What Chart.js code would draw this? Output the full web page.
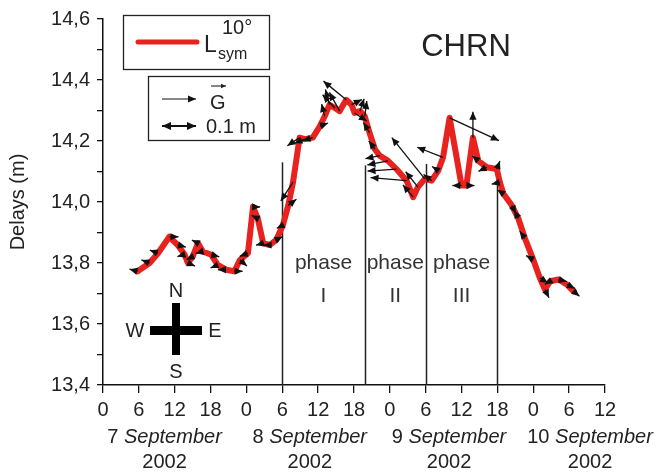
<!DOCTYPE html>
<html>
<head>
<meta charset="utf-8">
<script src="https://cdn.jsdelivr.net/npm/chart.js@4.4.1/dist/chart.umd.min.js"></script>
<style>
  html, body { margin: 0; padding: 0; background: #fff; }
  #wrap { width: 661px; height: 475px; position: relative; }
</style>
</head>
<body>
<div id="wrap"><canvas id="chart"></canvas></div>
<script>
// ===== DATA =====
// hours since 7 Sept 2002 00:00
const hours = [5.8, 7.8, 9.2, 11.1, 12.5, 13.65, 14.2, 15.0, 15.9, 16.7, 18.1, 19.2, 20.6, 22.0, 22.9, 24.25,
  25.1, 25.9, 26.8, 27.9, 29.0, 30.1, 31.0, 31.8, 32.9, 33.75, 35.1, 36.3, 37.1, 37.9, 38.8, 39.6, 40.7, 41.6,
  42.1, 43.0, 43.8, 44.6, 45.5, 46.3, 47.7, 49.1, 50.8, 51.9, 52.7, 53.85, 55.0, 56.1, 56.9, 58.0, 60.0, 60.8,
  61.9, 62.8, 64.2, 65.9, 66.4, 67.0, 68.4, 69.5, 70.6, 72.0, 73.1, 73.95, 74.8, 76.2, 77.6, 78.7];
// L_sym 10° delays (m)
const delays = [13.773, 13.800, 13.832, 13.886, 13.859, 13.828, 13.800, 13.821, 13.865, 13.838, 13.827, 13.794,
  13.778, 13.773, 13.810, 13.832, 13.984, 13.946, 13.865, 13.859, 13.876, 13.924, 13.989, 14.065, 14.211, 14.206,
  14.211, 14.249, 14.281, 14.319, 14.308, 14.298, 14.335, 14.319, 14.292, 14.298, 14.281, 14.227, 14.173, 14.152,
  14.135, 14.108, 14.070, 14.016, 14.049, 14.076, 14.070, 14.103, 14.146, 14.276, 14.054, 14.054, 14.211, 14.135,
  14.114, 14.108, 14.065, 14.027, 13.989, 13.946, 13.881, 13.811, 13.751, 13.713, 13.740, 13.746, 13.730, 13.708];
// gradient vector G (m), east and north components
const gradEast = [-0.024, -0.024, -0.024, 0.027, 0.024, -0.021, 0.021, -0.018, -0.018, -0.021, 0.024, -0.021,
  -0.024, 0.024, 0.021, -0.024, 0.021, -0.018, -0.021, -0.018, 0.018, -0.018, 0.024, -0.036, -0.036, -0.030,
  -0.030, 0.024, -0.009, -0.012, -0.036, -0.030, -0.067, 0.030, 0.036, 0.012, 0.006, -0.018, -0.018, -0.042,
  -0.061, -0.085, -0.106, -0.030, -0.036, -0.097, -0.024, -0.018, -0.076, 0.145, -0.027, 0.024, 0.000, -0.018,
  -0.024, 0.009, -0.024, -0.018, 0.012, -0.012, -0.015, -0.021, 0.024, 0.012, -0.015, 0.024, 0.024, 0.018];
const gradNorth = [0.006, 0.009, 0.009, 0.000, -0.006, -0.006, -0.009, -0.009, 0.009, -0.006, -0.006, -0.009,
  0.000, 0.000, -0.018, -0.009, 0.000, 0.009, -0.006, 0.000, 0.009, -0.009, 0.018, -0.055, -0.024, -0.012,
  -0.009, 0.009, 0.036, 0.045, 0.039, 0.055, 0.055, 0.015, -0.024, 0.036, 0.045, 0.030, 0.024, -0.009,
  -0.012, -0.006, 0.009, 0.036, 0.045, 0.121, 0.018, 0.012, 0.030, -0.067, 0.000, 0.000, 0.076, 0.015,
  -0.012, 0.024, -0.006, 0.012, -0.024, 0.024, 0.021, 0.012, -0.015, -0.024, -0.009, -0.006, -0.012, -0.015];

const phaseBounds = [30, 43.8, 54, 66];
const phaseTops = [14.13, 14.12, 14.125, 14.12];
const phaseNames = ['I', 'II', 'III'];
const dayNumbers = ['7', '8', '9', '10'];
const dayAnchors = [10.3, 34.6, 57.9, 81.5];
const yearLabel = '2002';

const FONT = '"Liberation Sans", Arial, sans-serif';
const TXT = '#222';
const RED = '#e8221e';
const ARROW_SCALE = 340; // px per metre of gradient

// ===== ARROW HELPER =====
function drawArrow(ctx, x1, y1, x2, y2, head, both) {
    const ang = Math.atan2(y2 - y1, x2 - x1);
    ctx.beginPath();
    ctx.moveTo(x1, y1);
    ctx.lineTo(x2, y2);
    ctx.stroke();
    const tip = (x, y, a) => {
        ctx.beginPath();
        ctx.moveTo(x, y);
        ctx.lineTo(x - head * Math.cos(a) + head * 0.45 * Math.sin(a), y - head * Math.sin(a) - head * 0.45 * Math.cos(a));
        ctx.lineTo(x - head * Math.cos(a) - head * 0.45 * Math.sin(a), y - head * Math.sin(a) + head * 0.45 * Math.cos(a));
        ctx.closePath();
        ctx.fill();
    };
    tip(x2, y2, ang);
    if (both) tip(x1, y1, ang + Math.PI);
}

// ===== DECORATION PLUGIN =====
const decorPlugin = {
    id: 'decor',
    beforeDatasetsDraw(chart) {
        const { ctx, scales: { x, y } } = chart;
        ctx.save();
        // phase boundaries
        ctx.strokeStyle = '#222';
        ctx.lineWidth = 1.5;
        phaseBounds.forEach((h, i) => {
            const px = Math.round(x.getPixelForValue(h)) + 0.5;
            ctx.beginPath();
            ctx.moveTo(px, y.getPixelForValue(phaseTops[i]));
            ctx.lineTo(px, y.getPixelForValue(13.4));
            ctx.stroke();
        });
        // phase labels
        ctx.fillStyle = '#333';
        ctx.font = '21px ' + FONT;
        ctx.textAlign = 'center';
        ctx.textBaseline = 'middle';
        phaseNames.forEach((n, i) => {
            const cx = (x.getPixelForValue(phaseBounds[i]) + x.getPixelForValue(phaseBounds[i + 1])) / 2;
            ctx.fillText('phase', cx, y.getPixelForValue(13.80));
            ctx.fillText(n, cx, y.getPixelForValue(13.69));
        });
        ctx.restore();
    },
    afterDatasetsDraw(chart) {
        const { ctx, scales: { x, y } } = chart;
        ctx.save();
        // gradient arrows
        ctx.strokeStyle = '#111';
        ctx.fillStyle = '#111';
        ctx.lineWidth = 1.3;
        hours.forEach((h, i) => {
            const px = x.getPixelForValue(h);
            const py = y.getPixelForValue(delays[i]);
            drawArrow(ctx, px, py, px + gradEast[i] * ARROW_SCALE, py - gradNorth[i] * ARROW_SCALE, 8, false);
        });

        // legend box 1
        ctx.strokeStyle = '#222';
        ctx.lineWidth = 1.3;
        ctx.strokeRect(123.5, 15.5, 146, 54);
        ctx.strokeStyle = RED;
        ctx.lineWidth = 5;
        ctx.lineCap = 'round';
        ctx.beginPath();
        ctx.moveTo(138, 42);
        ctx.lineTo(197, 42);
        ctx.stroke();
        ctx.lineCap = 'butt';
        ctx.fillStyle = TXT;
        ctx.textAlign = 'left';
        ctx.textBaseline = 'alphabetic';
        ctx.font = '23px ' + FONT;
        ctx.fillText('L', 204, 52);
        ctx.font = '16px ' + FONT;
        ctx.fillText('sym', 218, 59);
        ctx.font = '20px ' + FONT;
        ctx.fillText('10°', 222, 34);

        // legend box 2
        ctx.strokeStyle = '#222';
        ctx.lineWidth = 1.3;
        ctx.strokeRect(148.5, 76.5, 121, 64);
        ctx.strokeStyle = '#111';
        ctx.fillStyle = '#111';
        ctx.lineWidth = 1.1;
        drawArrow(ctx, 162, 99, 196, 99, 8, false);
        ctx.lineWidth = 2;
        drawArrow(ctx, 162, 126, 162 + 0.1 * ARROW_SCALE, 126, 9, true);
        ctx.fillStyle = TXT;
        ctx.font = '20px ' + FONT;
        ctx.textBaseline = 'middle';
        ctx.fillText('G', 210, 103);
        ctx.lineWidth = 1;
        drawArrow(ctx, 211, 86, 226, 86, 5, false);
        ctx.fillStyle = TXT;
        ctx.fillText('0.1 m', 206, 127);

        // station name
        ctx.font = '31px ' + FONT;
        ctx.textAlign = 'center';
        ctx.fillText('CHRN', 466, 47);

        // compass
        ctx.fillStyle = '#000';
        ctx.fillRect(172, 303, 8, 52);
        ctx.fillRect(150, 326, 52, 9);
        ctx.fillStyle = TXT;
        ctx.font = '20px ' + FONT;
        ctx.fillText('N', 176, 291);
        ctx.fillText('S', 176, 372);
        ctx.fillText('W', 135, 331);
        ctx.fillText('E', 215, 331);

        // date labels under the x axis
        dayNumbers.forEach((d, i) => {
            const cx = x.getPixelForValue(dayAnchors[i]);
            ctx.font = '20px ' + FONT;
            const w1 = ctx.measureText(d + ' ').width;
            ctx.font = 'italic 20px ' + FONT;
            const w2 = ctx.measureText('September').width;
            const start = cx - (w1 + w2) / 2;
            ctx.textAlign = 'left';
            ctx.font = '20px ' + FONT;
            ctx.fillText(d + ' ', start, 437);
            ctx.font = 'italic 20px ' + FONT;
            ctx.fillText('September', start + w1, 437);
            ctx.textAlign = 'center';
            ctx.font = '20px ' + FONT;
            ctx.fillText(yearLabel, cx, 462);
        });
        ctx.restore();
    }
};

// ===== CHART =====
const points = hours.map((h, i) => ({ x: h, y: delays[i] }));

new Chart(document.getElementById('chart'), {
    type: 'line',
    data: {
        datasets: [{
            label: 'Lsym 10°',
            data: points,
            borderColor: RED,
            borderWidth: 6,
            borderJoinStyle: 'round',
            borderCapStyle: 'round',
            pointRadius: 0,
            tension: 0,
            fill: false
        }]
    },
    options: {
        responsive: true,
        maintainAspectRatio: false,
        animation: false,
        devicePixelRatio: 1,
        layout: { padding: { top: 15, right: 56, left: 0, bottom: 0 } },
        plugins: { legend: { display: false }, tooltip: { enabled: false } },
        scales: {
            x: {
                type: 'linear',
                min: 0,
                max: 84,
                afterFit: s => { s.height = 90; },
                border: { display: true, color: '#111', width: 1.5 },
                grid: { drawOnChartArea: false, drawTicks: true, tickLength: 8, color: '#111', lineWidth: 1.3 },
                ticks: {
                    stepSize: 6,
                    autoSkip: false,
                    maxRotation: 0,
                    padding: 5,
                    color: TXT,
                    font: { family: FONT, size: 20 },
                    callback: v => String(v % 24)
                }
            },
            y: {
                min: 13.4,
                max: 14.6,
                afterFit: s => { s.width = 103; },
                border: { display: true, color: '#111', width: 1.5 },
                grid: { drawOnChartArea: false, drawTicks: true, tickLength: 6, color: '#111', lineWidth: 1.3 },
                title: {
                    display: true,
                    text: 'Delays (m)',
                    color: TXT,
                    font: { family: FONT, size: 20 },
                    padding: { top: 6, bottom: 0 }
                },
                ticks: {
                    stepSize: 0.1,
                    autoSkip: false,
                    padding: 7,
                    color: TXT,
                    font: { family: FONT, size: 20 },
                    callback: v => Math.round(v * 10) % 2 === 0 ? v.toFixed(1).replace('.', ',') : ''
                }
            }
        }
    },
    plugins: [decorPlugin]
});
</script>
</body>
</html>
